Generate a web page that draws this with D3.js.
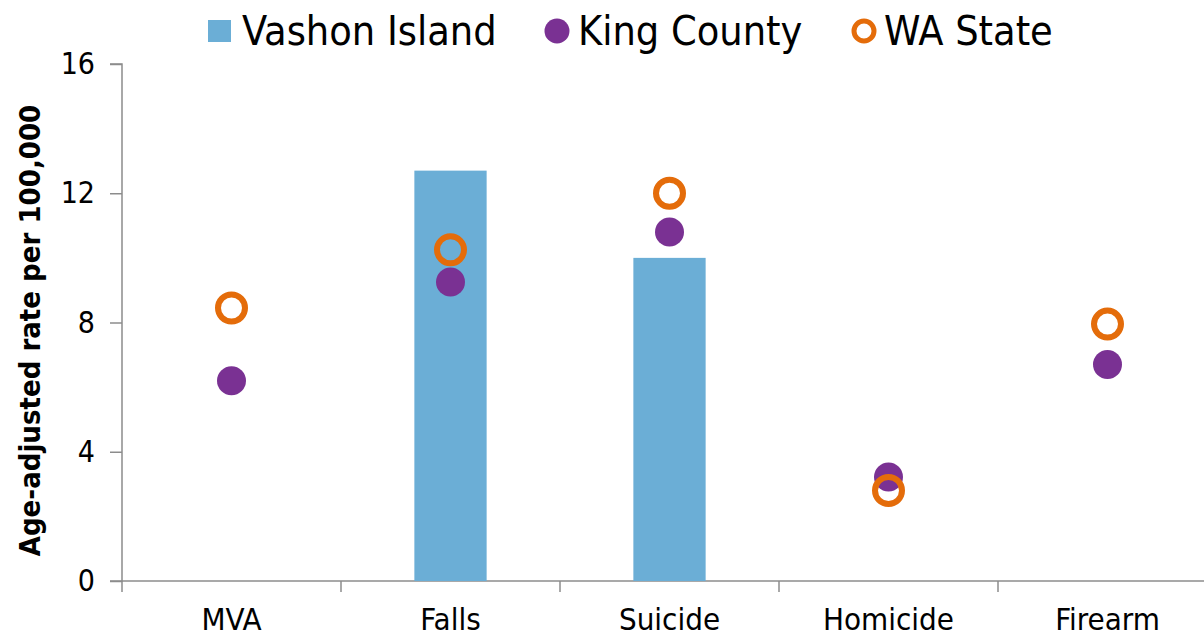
<!DOCTYPE html>
<html>
<head>
<meta charset="utf-8">
<script src="https://cdn.jsdelivr.net/npm/d3@7"></script>
<style>
  body { margin: 0; background: #fff; }
  svg text { font-family: "DejaVu Sans Condensed", "DejaVu Sans", sans-serif; }
</style>
</head>
<body>
<div id="chart"></div>
<script>
var categories = ["MVA", "Falls", "Suicide", "Homicide", "Firearm"];
var vashon = [null, 12.7, 10.0, null, null];
var king = [6.2, 9.25, 10.8, 3.22, 6.7];
var waState = [8.45, 10.25, 12.0, 2.8, 7.95];
var yTicks = [0, 4, 8, 12, 16];

var W = 1204, H = 638;
var margin = {top: 64, right: -13, bottom: 57, left: 122},
    width = W - margin.left - margin.right,
    height = H - margin.top - margin.bottom;

var svg = d3.select("#chart")
    .append("svg")
    .attr("width", W)
    .attr("height", H);

var g = svg.append("g")
    .attr("transform", "translate(" + margin.left + "," + margin.top + ")");

var x = d3.scaleBand()
    .domain(categories)
    .range([0, width]);

var y = d3.scaleLinear()
    .domain([0, 16])
    .range([height, 0]);

// axes
var yAxis = g.append("g")
    .call(d3.axisLeft(y).tickValues(yTicks).tickSize(12).tickPadding(15));
yAxis.select(".domain").attr("stroke", "#8c8c8c").attr("stroke-width", 1.5)
    .attr("d", "M-12," + height + "H0V0H-12");
yAxis.selectAll(".tick line").attr("stroke", "#8c8c8c").attr("stroke-width", 1.5);
yAxis.selectAll("text").attr("font-size", 30).attr("fill", "#000");

var xAxis = g.append("g")
    .attr("transform", "translate(0," + height + ")")
    .call(d3.axisBottom(x).tickSize(0).tickPadding(27));
xAxis.select(".domain").attr("stroke", "#8c8c8c").attr("stroke-width", 1.5)
    .attr("d", "M0,0H" + width);
xAxis.selectAll("text").attr("font-size", 31).attr("fill", "#000");

// category boundary ticks
g.append("g")
    .selectAll("line")
    .data(categories)
    .enter().append("line")
    .attr("x1", d => x(d))
    .attr("x2", d => x(d))
    .attr("y1", height)
    .attr("y2", height + 11)
    .attr("stroke", "#8c8c8c")
    .attr("stroke-width", 1.5);

// bars
var barW = x.bandwidth() * 0.33;
g.append("g")
    .selectAll("rect")
    .data(categories.map((c, i) => ({c: c, v: vashon[i]})).filter(d => d.v != null))
    .enter().append("rect")
    .attr("x", d => x(d.c) + x.bandwidth() / 2 - barW / 2)
    .attr("width", barW)
    .attr("y", d => y(d.v))
    .attr("height", d => height - y(d.v))
    .attr("fill", "#6baed6");

// King County dots
g.append("g")
    .selectAll("circle")
    .data(categories.map((c, i) => ({c: c, v: king[i]})))
    .enter().append("circle")
    .attr("cx", d => x(d.c) + x.bandwidth() / 2)
    .attr("cy", d => y(d.v))
    .attr("r", 14.5)
    .attr("fill", "#7a3193");

// WA State rings
g.append("g")
    .selectAll("circle")
    .data(categories.map((c, i) => ({c: c, v: waState[i]})))
    .enter().append("circle")
    .attr("cx", d => x(d.c) + x.bandwidth() / 2)
    .attr("cy", d => y(d.v))
    .attr("r", 13.5)
    .attr("fill", "none")
    .attr("stroke", "#e46c0a")
    .attr("stroke-width", 6);

// y axis title
svg.append("text")
    .attr("transform", "translate(40," + (margin.top + height / 2 + 8) + ") rotate(-90)")
    .attr("text-anchor", "middle")
    .attr("font-size", 29)
    .attr("font-weight", "bold")
    .text("Age-adjusted rate per 100,000");

// legend
var legend = svg.append("g");
legend.append("rect")
    .attr("x", 208).attr("y", 20).attr("width", 23).attr("height", 22)
    .attr("fill", "#6baed6");
legend.append("text")
    .attr("x", 242).attr("y", 45).attr("font-size", 41)
    .text("Vashon Island");
legend.append("circle")
    .attr("cx", 557).attr("cy", 31).attr("r", 12.5)
    .attr("fill", "#7a3193");
legend.append("text")
    .attr("x", 578).attr("y", 45).attr("font-size", 41)
    .text("King County");
legend.append("circle")
    .attr("cx", 864).attr("cy", 31).attr("r", 10)
    .attr("fill", "none")
    .attr("stroke", "#e46c0a")
    .attr("stroke-width", 5);
legend.append("text")
    .attr("x", 884).attr("y", 45).attr("font-size", 41)
    .text("WA State");
</script>
</body>
</html>
